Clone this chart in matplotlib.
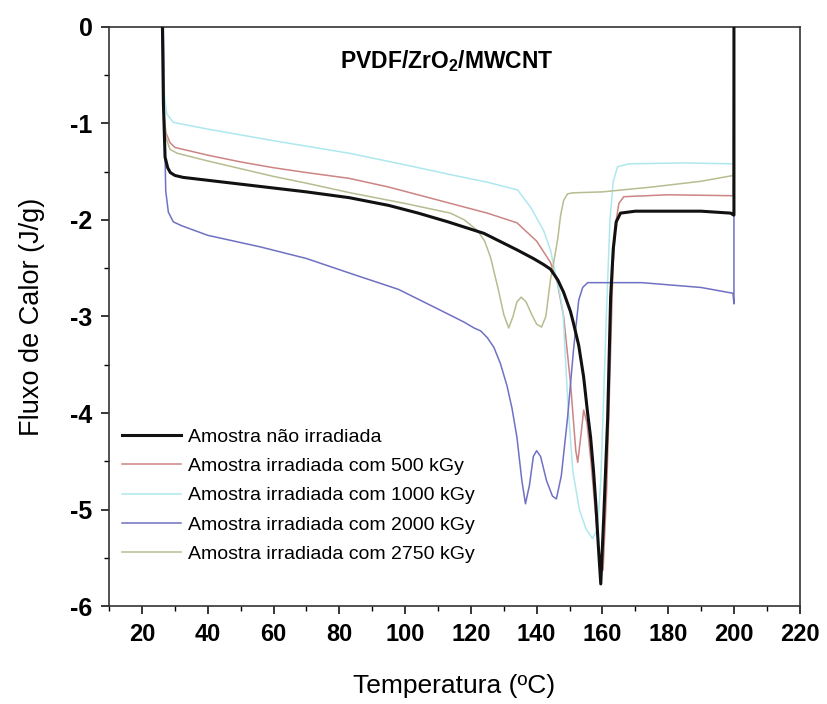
import matplotlib
matplotlib.use('Agg')
import matplotlib.pyplot as plt
from matplotlib.ticker import MultipleLocator

plt.rcParams['font.family'] = ['Liberation Sans', 'DejaVu Sans']
plt.rcParams['mathtext.fontset'] = 'custom'
plt.rcParams['mathtext.rm'] = 'Liberation Sans:bold'
plt.rcParams['mathtext.default'] = 'rm'
plt.rcParams['axes.unicode_minus'] = False

# DSC curves (temperature in C, heat flow in J/g)
t_0 = [26.2, 26.5, 27.0, 27.8, 28.6, 30, 32.5, 40, 50, 60, 70, 83, 95, 104, 113, 124, 134,
       139, 142, 144.2, 146.4, 148.2, 150.3, 151.2, 152.8, 154.3, 155.5, 156.4, 157.3, 158,
       158.8, 159.5, 160.4, 161.6, 162.5, 163.3, 164.2, 165.5, 170, 190, 199, 199.9, 200, 200]
q_0 = [0, -0.8, -1.35, -1.46, -1.51, -1.54, -1.56, -1.59, -1.63, -1.67, -1.71, -1.77, -1.85,
       -1.93, -2.02, -2.14, -2.31, -2.40, -2.46, -2.51, -2.62, -2.75, -2.95, -3.07, -3.3, -3.63,
       -4.0, -4.25, -4.6, -4.94, -5.4, -5.77, -5.08, -4.05, -2.8, -2.3, -2.02, -1.93, -1.91,
       -1.91, -1.93, -1.95, -1.95, 0]

t_500 = [26.3, 26.6, 27.3, 28.5, 30, 40, 50, 60, 70, 83, 95, 105, 115, 125, 134, 140, 144.2,
         146.3, 148.2, 150.3, 151.9, 152.5, 153.4, 154.3, 155.3, 156.5, 157.8, 158.9, 160.2,
         161.3, 162.3, 163.2, 164, 165, 166.5, 180, 199.8, 200]
q_500 = [0, -0.9, -1.1, -1.2, -1.25, -1.33, -1.4, -1.46, -1.51, -1.57, -1.66, -1.75, -1.84,
         -1.93, -2.03, -2.22, -2.44, -2.65, -3.0, -3.69, -4.39, -4.51, -4.25, -3.97, -4.1, -4.5,
         -5.0, -5.43, -5.63, -4.8, -3.6, -2.5, -2.05, -1.83, -1.76, -1.74, -1.75, 0]

t_1000 = [26.4, 26.8, 27.5, 29.5, 40, 60, 83, 100, 115, 125, 134.2, 138.2, 142.1, 144.2, 146,
          147, 148, 149.5, 151, 153, 155, 157, 158.5, 159.5, 160.4, 161.3, 162.3, 163.3,
          164.6, 168, 185, 199.8, 200]
q_1000 = [0, -0.7, -0.9, -0.99, -1.06, -1.18, -1.31, -1.43, -1.54, -1.61, -1.69, -1.87, -2.11,
          -2.31, -2.6, -2.75, -2.95, -3.9, -4.6, -5.0, -5.2, -5.3, -5.2, -4.7, -3.8, -2.9,
          -2.0, -1.6, -1.45, -1.42, -1.41, -1.42, 0]

t_2000 = [26.5, 26.8, 27.2, 28, 29.5, 32, 40, 56, 70, 83, 98, 111, 118, 121, 123, 125, 127,
          129, 131, 132.5, 134, 135.5, 136.6, 137.8, 139, 140, 141.2, 143, 144.8, 146, 147.5,
          149.4, 151.2, 152.8, 154, 155.5, 172, 190, 199.7, 200, 200]
q_2000 = [0, -1.0, -1.7, -1.92, -2.02, -2.06, -2.16, -2.28, -2.40, -2.55, -2.72, -2.94, -3.06,
          -3.12, -3.15, -3.22, -3.32, -3.49, -3.72, -3.95, -4.25, -4.7, -4.94, -4.75, -4.45,
          -4.39, -4.45, -4.7, -4.86, -4.89, -4.65, -4.05, -3.35, -2.83, -2.7, -2.65, -2.65,
          -2.7, -2.76, -2.87, 0]

t_2750 = [26.3, 26.6, 27.3, 28.5, 30.7, 40, 50, 60, 70, 83.4, 100, 113.8, 118, 122, 124.2, 126,
          128.4, 130, 131.5, 132.8, 134, 135.3, 136.8, 138.5, 140, 141.5, 142.8, 144.2, 145.3,
          146.4, 147.3, 148.2, 149.4, 151, 160, 175, 190, 199.8, 200]
q_2750 = [0, -0.9, -1.15, -1.27, -1.31, -1.39, -1.47, -1.55, -1.62, -1.72, -1.83, -1.93, -2.0,
          -2.11, -2.22, -2.39, -2.73, -2.98, -3.12, -3.0, -2.85, -2.8, -2.85, -2.98, -3.08,
          -3.11, -3.0, -2.62, -2.42, -2.2, -1.95, -1.8, -1.73, -1.72, -1.71, -1.66, -1.6,
          -1.54, 0]

labels = ['Amostra não irradiada', 'Amostra irradiada com 500 kGy',
          'Amostra irradiada com 1000 kGy', 'Amostra irradiada com 2000 kGy',
          'Amostra irradiada com 2750 kGy']

fig = plt.figure(figsize=(8.27, 7.04), dpi=100)
ax = fig.add_axes([0.132, 0.139, 0.835, 0.823])

ax.plot(t_500, q_500, color='#cc8484', lw=1.1, label=labels[1], zorder=2)
ax.plot(t_1000, q_1000, color='#aee8ee', lw=1.1, label=labels[2], zorder=2)
ax.plot(t_2000, q_2000, color='#7070c4', lw=1.1, label=labels[3], zorder=2)
ax.plot(t_2750, q_2750, color='#b8bc90', lw=1.1, label=labels[4], zorder=2)
ax.plot(t_0, q_0, color='#111111', lw=2.2, label=labels[0], zorder=3)

ax.set_xlim(10, 220)
ax.set_ylim(-6, 0)
ax.xaxis.set_minor_locator(MultipleLocator(10))
ax.yaxis.set_major_locator(MultipleLocator(1))
ax.yaxis.set_minor_locator(MultipleLocator(0.5))
ax.set_xticks(range(20, 221, 20))
ax.tick_params(which='major', direction='out', length=6, width=1.1, labelsize=17, pad=6)
ax.tick_params(axis='y', which='major', labelsize=18)
ax.tick_params(which='minor', direction='out', length=3.5, width=1.0)
for lab in ax.get_xticklabels() + ax.get_yticklabels():
    lab.set_fontweight('bold')
for sp in ax.spines.values():
    sp.set_linewidth(1.2)
    sp.set_color('#333333')

ax.set_xlabel('Temperatura (ºC)', fontsize=19, labelpad=20)
ax.set_ylabel('Fluxo de Calor (J/g)', fontsize=19.5, labelpad=18)

ax.text(112.6, -0.36, 'PVDF/ZrO$_2$/MWCNT', fontsize=16.5, fontweight='bold',
        ha='center', va='center')

handles, labs = ax.get_legend_handles_labels()
order = [4, 0, 1, 2, 3]
ax.legend([handles[i] for i in order], [labs[i] for i in order], loc='upper left',
          bbox_to_anchor=(0.019, 0.307), frameon=False, fontsize=14, handlelength=3.0,
          handletextpad=0.4, labelspacing=0.6, borderpad=0, borderaxespad=0)

fig.savefig('out.png', dpi=100)
